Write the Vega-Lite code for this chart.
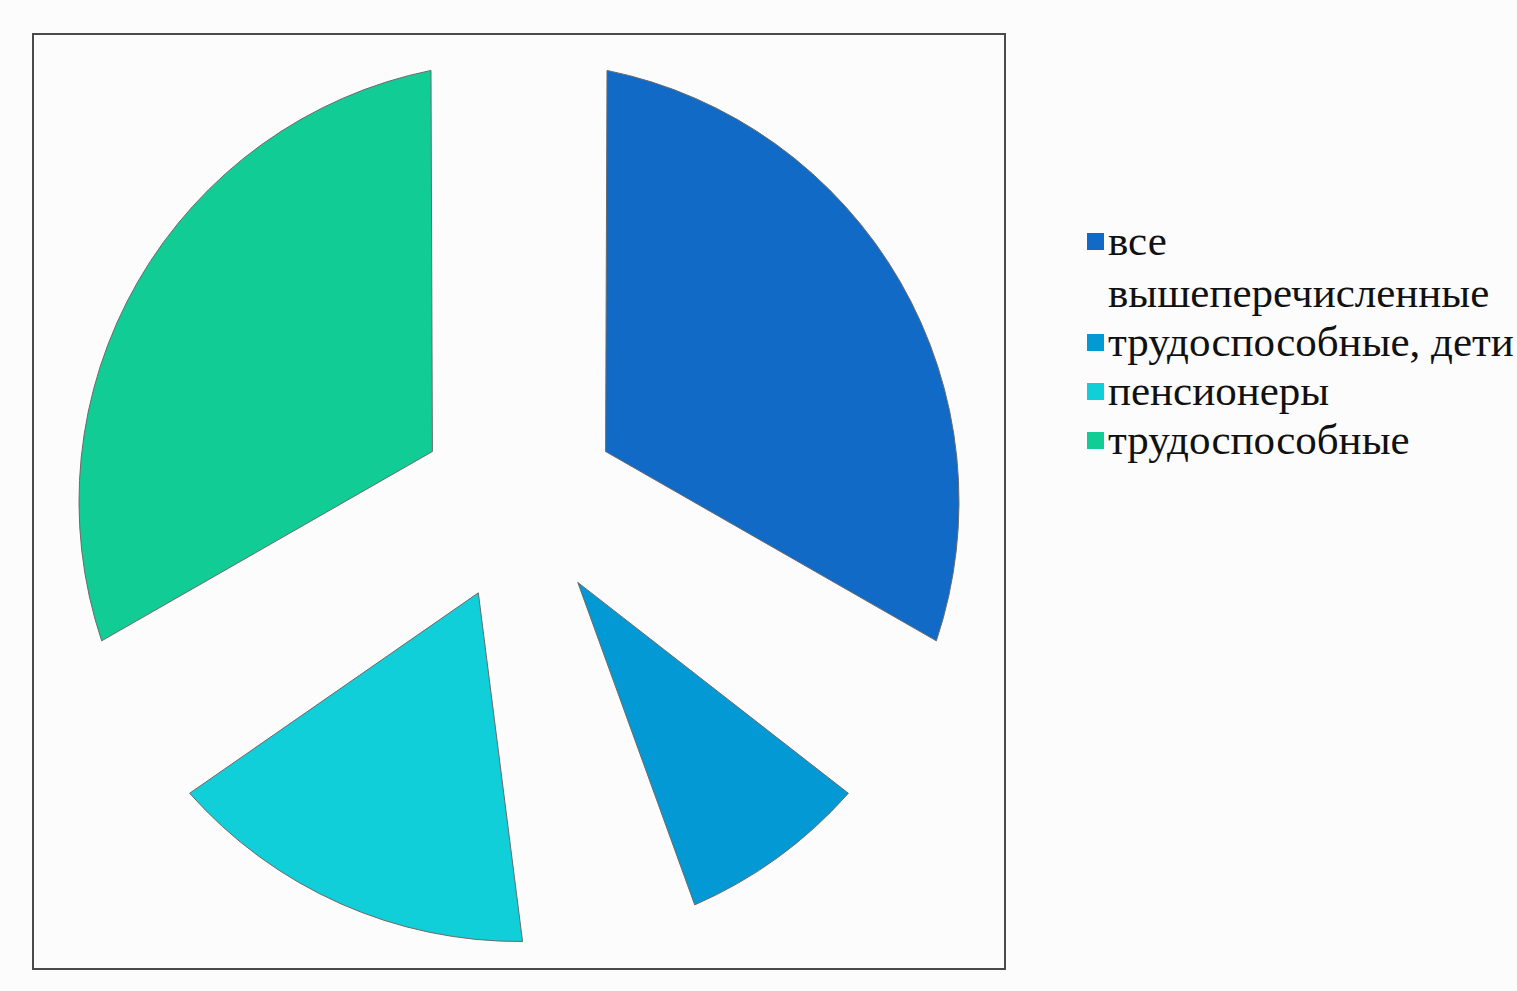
{
  "$schema": "https://vega.github.io/schema/vega-lite/v6.json",
  "width": 972,
  "height": 935,
  "autosize": {"type": "none"},
  "padding": {"left": 33, "top": 34, "right": 512, "bottom": 22},
  "background": "#fcfcfc",
  "view": {"stroke": "#4a4a4a", "strokeWidth": 2},
  "data": {
    "values": [
      {"group": "все вышеперечисленные", "n": 1, "share": 5},
      {"group": "трудоспособные, дети", "n": 2, "share": 2},
      {"group": "пенсионеры", "n": 3, "share": 3},
      {"group": "трудоспособные", "n": 4, "share": 5}
    ]
  },
  "mark": {
    "type": "arc",
    "radius": 440,
    "innerRadius": 100,
    "padAngle": 0.3926,
    "stroke": "#6a6a6a",
    "strokeWidth": 1
  },
  "encoding": {
    "theta": {"field": "share", "type": "quantitative", "stack": true},
    "order": {"field": "n", "type": "quantitative"},
    "color": {
      "field": "group",
      "type": "nominal",
      "scale": {
        "domain": ["все вышеперечисленные", "трудоспособные, дети", "пенсионеры", "трудоспособные"],
        "range": ["#116ac6", "#0399d4", "#10cfd8", "#12cc96"]
      },
      "legend": {
        "title": null,
        "orient": "none",
        "legendX": 1041,
        "legendY": 186,
        "padding": 0,
        "symbolType": "square",
        "symbolSize": 289,
        "symbolStrokeWidth": 0,
        "labelFont": "Liberation Serif",
        "labelFontSize": 43,
        "labelColor": "#111111",
        "labelOffset": -9,
        "labelLimit": 600,
        "rowPadding": 5,
        "labelExpr": "datum.label == 'все вышеперечисленные' ? ['все', 'вышеперечисленные'] : datum.label"
      }
    }
  },
  "config": {
    "style": {"guide-label": {"lineHeight": 52}}
  }
}
